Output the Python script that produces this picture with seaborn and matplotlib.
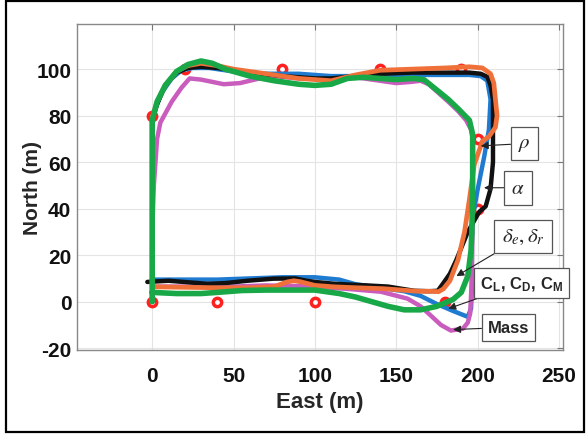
import matplotlib
matplotlib.use("Agg")
import matplotlib.pyplot as plt
import seaborn as sns
import pandas as pd
from matplotlib.patches import Rectangle

# ---- flight paths (East, North) in metres ----
blue_e = [0, 0, 0, 2, 6, 12, 18, 25, 35, 50, 70, 90, 110, 125, 140, 160, 180, 195, 202, 206,
          208, 207, 204, 200, 197, 196.5, 196.5, 196, 194, 185, 175, 165, 155, 140, 125, 115,
          100, 80, 60, 40, 20, 0]
blue_n = [0, 40, 78, 83, 90, 96, 99.5, 100.5, 100.5, 99, 98, 98, 97, 97, 97.5, 97.5, 97.5, 97.5,
          97, 95, 87, 74, 62, 48, 36, 25, 5, -3, -6.5, -4, -1, 2.5, 4.5, 6, 7.5, 9.5, 10.5, 10.5,
          10, 9.5, 9.5, 9.5]

mag_e = [0, 0, 1, 3, 5, 12, 18, 23, 30, 44, 54, 66, 75, 90, 110, 125, 140, 150, 159, 165, 170,
         175.6, 182, 188, 193, 196, 197, 197, 196.5, 195.5, 194, 191, 183.6, 177.5, 171, 165, 157,
         140.5, 120, 100, 70, 50, 20, 0]
mag_n = [0, 30, 50, 70, 77, 86, 92, 96, 95.5, 93.5, 94, 96, 97, 96, 95.5, 96.5, 95, 94, 94.5,
         95, 93.5, 90, 86, 82, 78, 74, 70, 40, 10, -5, -9, -11.6, -12.4, -10, -5.8, -2, 1.3, 4.3,
         5.5, 6.5, 7, 6.5, 6.5, 6.5]

black_e = [0, 0, 0, 3, 8, 15, 22, 30, 40, 60, 80, 100, 110, 125, 140, 160, 180, 195, 202, 206,
           208, 209.5, 209.5, 208, 205, 201, 194, 187, 183, 179, 175.6, 170, 161, 145, 132,
           112, 100, 95, 88, 74.5, 58.5, 45, 34, 10, -3]
black_n = [0, 40, 78, 85, 93, 98.5, 100.5, 101, 100.5, 98.5, 97, 96, 96, 97, 98, 98.5, 98.5,
           98.5, 98, 96.7, 93, 87, 60, 48.5, 41, 38.6, 30, 18, 12, 8, 4.7, 4.5, 4.7, 6.5, 7,
           7.7, 8.5, 9, 10, 9.9, 9, 8, 7.7, 9, 8.5]

orange_e = [0, 0, 0, 3, 8, 15, 22, 30, 40, 50, 70, 90, 100, 110, 125, 140, 160, 180, 195, 203,
            208, 210, 212, 211, 207, 203, 198, 195, 192, 188, 183, 179, 176, 170, 163, 142, 125,
            111.5, 100, 91, 87, 83, 75, 60, 40, 20, 0]
orange_n = [0, 40, 79, 86, 93, 99, 101.5, 102.5, 101.5, 100, 98, 96, 95.5, 95, 97.5, 99.5, 100,
            100.5, 101, 100.5, 98, 94, 80, 75, 71, 69, 59, 44, 30, 18, 9, 5.5, 4.3, 4.5, 4.5,
            5.6, 6, 6.4, 7, 8.6, 9, 8.5, 6.5, 6, 6, 6.2, 6.4]

green_e = [0, 0, 0, 3, 8, 15, 22, 30, 37, 45, 60, 75, 90, 100, 110, 120, 130, 140, 150, 160, 167,
           175, 182, 188, 195, 197, 197, 196.5, 196, 194, 190, 185, 175, 165, 155, 145, 135, 125,
           115, 100, 85, 70, 55, 40, 30, 15, 0]
green_n = [0, 40, 78, 86, 93, 99, 102, 103.5, 102.5, 100, 97, 95, 93.5, 93, 93.5, 96, 96.5, 96,
           95.5, 96, 95.5, 91, 87, 83, 78, 72, 50, 30, 22, 11, 4, 1, -2, -3.5, -3.5, -2, 0, 2,
           3.5, 5, 5, 5, 4.8, 4, 3.5, 3.5, 4]

# ---- waypoints ----
wp_e = [0, 40, 100, 180, 200, 200, 190, 140, 80, 20, 0]
wp_n = [0, 0, 0, 0, 40, 70, 100, 100, 100, 100, 80]

# ---- callout labels: (text, box centre, arrow tip) ----
callout_text = [r"$\rho$", r"$\alpha$", r"$\delta_e, \delta_r$",
                r"C$_{\mathregular{L}}$, C$_{\mathregular{D}}$, C$_{\mathregular{M}}$", "Mass"]
callout_box = [(229, 68), (225, 49), (228, 28), (227, 8), (219, -11)]
callout_tip = [(202, 67), (204, 49), (187, 11), (182, -3), (185, -12)]

x_ticks = [0, 50, 100, 150, 200, 250]
y_ticks = [-20, 0, 20, 40, 60, 80, 100]

sns.set_theme(style="whitegrid")
plt.rcParams["font.family"] = ["Liberation Sans", "DejaVu Sans"]
plt.rcParams["mathtext.fontset"] = "stix"

fig = plt.figure(figsize=(5.87, 4.35), dpi=100)
ax = fig.add_axes([0.131, 0.194, 0.828, 0.748])

series = [
    (blue_e, blue_n, "#1f7bd0", 3.2),
    (mag_e, mag_n, "#c95cbd", 3.2),
    (black_e, black_n, "#111111", 3.2),
    (orange_e, orange_n, "#f0703a", 3.4),
    (green_e, green_n, "#18a848", 4.0),
]
for e, n, c, lw in series:
    df = pd.DataFrame({"East": e, "North": n})
    sns.lineplot(data=df, x="East", y="North", sort=False, estimator=None, color=c,
                 linewidth=lw, ax=ax, zorder=3, solid_joinstyle="round", solid_capstyle="round")

ax.plot(wp_e, wp_n, linestyle="none", marker="o", markersize=6, markerfacecolor="white",
        markeredgecolor="#ff2020", markeredgewidth=2.5, zorder=2)

for txt, (bx, by), (tx, ty) in zip(callout_text, callout_box, callout_tip):
    bold = txt == "Mass" or txt.startswith("C")
    ax.annotate(txt, xy=(tx, ty), xytext=(bx, by), textcoords="data",
                ha="center", va="center",
                fontsize=12 if bold else 15, fontweight="bold" if bold else "normal",
                bbox=dict(boxstyle="square,pad=0.35", fc="white", ec="#555555", lw=0.9),
                arrowprops=dict(arrowstyle="-|>", color="#222222", lw=0.8, mutation_scale=11,
                                shrinkA=0, shrinkB=0),
                zorder=5)

ax.set_xlim(-46.3, 252.5)
ax.set_ylim(-20.6, 119.3)
ax.set_xticks(x_ticks)
ax.set_yticks(y_ticks)
ax.set_xticklabels([str(v) for v in x_ticks], fontsize=15, fontweight="bold")
ax.set_yticklabels([str(v) for v in y_ticks], fontsize=15, fontweight="bold")
ax.tick_params(axis="both", direction="in", length=4, width=0.8, color="#777777",
               top=True, right=True, labelcolor="#111111")
ax.tick_params(axis="x", pad=12)
ax.tick_params(axis="y", pad=4)
ax.grid(True, color="#e4e4e4", linewidth=0.8)
for s in ax.spines.values():
    s.set_color("#888888")
    s.set_linewidth(1.0)
ax.set_facecolor("white")

ax.set_xlabel("East (m)", fontsize=16, fontweight="bold", labelpad=4)
ax.set_ylabel("North (m)", fontsize=15, fontweight="bold", labelpad=-4)

fig.patches.append(Rectangle((6 / 587, 2 / 435), 578 / 587, 431 / 435, transform=fig.transFigure,
                             fill=False, edgecolor="black", linewidth=1.6))

fig.savefig("out.png", dpi=100)
